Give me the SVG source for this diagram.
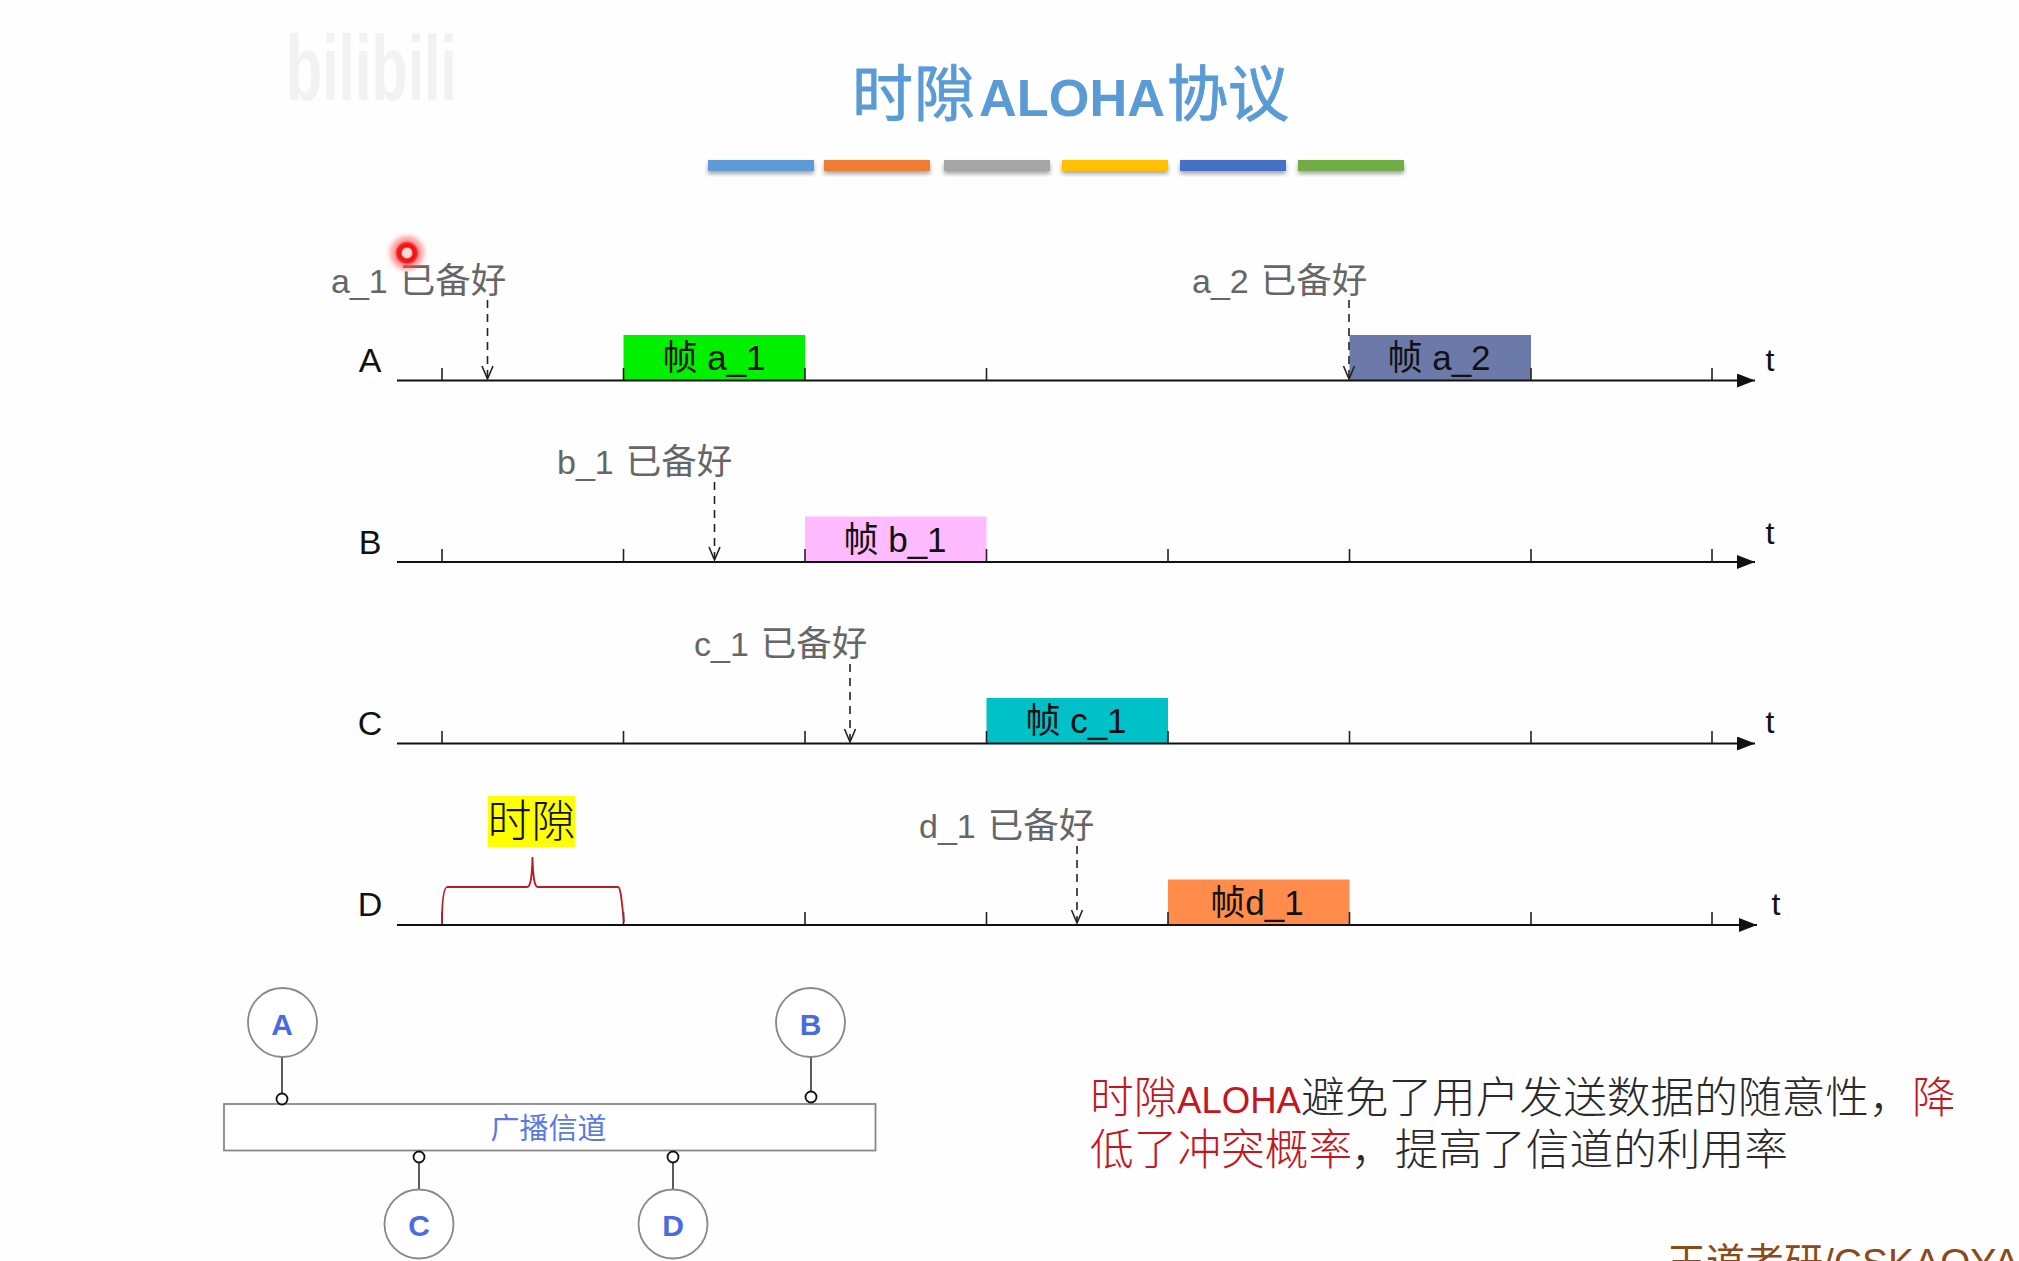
<svg xmlns="http://www.w3.org/2000/svg" width="2019" height="1261" viewBox="0 0 2019 1261">
<style>
text{font-family:"Liberation Sans","Noto Sans CJK SC",sans-serif}
.axis{stroke:#111;stroke-width:2;fill:none}
.tick{stroke:#222;stroke-width:1.6;fill:none}
.ready{stroke:#222;stroke-width:1.6;stroke-dasharray:8 6;fill:none}
.head{stroke:#222;stroke-width:1.6;fill:none}
.lab{font-size:35.500px;fill:#666}
.lat{font-size:34px}
.row{font-size:34px;fill:#111;text-anchor:middle}
.t{font-size:32px;fill:#111;text-anchor:middle}
.fr{font-size:35px;fill:#111;text-anchor:middle}
.bar{filter:url(#sh)}
.st{fill:#fff;stroke:#888;stroke-width:1.8}
.stl{font-size:30px;font-weight:bold;fill:#4a6ae0;text-anchor:middle}
.lk{stroke:#333;stroke-width:1.6}
.pt{fill:#fff;stroke:#111;stroke-width:1.8}
.body{font-size:43.700px;font-weight:300}
.red{fill:#c4161c}
.blk{fill:#2a2a2a}
</style>
<defs>
<marker id="arr" markerUnits="userSpaceOnUse" markerWidth="20" markerHeight="14" refX="18" refY="7" orient="auto"><path d="M0 0L18 7L0 14Z" fill="#111"/></marker>
<filter id="sh" x="-5%" y="-30%" width="110%" height="180%"><feDropShadow dx="0" dy="3" stdDeviation="2.2" flood-color="#000" flood-opacity=".35"/></filter>
<filter id="bl" x="-50%" y="-50%" width="200%" height="200%"><feGaussianBlur stdDeviation="2.500"/></filter>
<radialGradient id="dot"><stop offset="0" stop-color="#ffd0d0"/><stop offset=".3" stop-color="#ffc0c0"/><stop offset=".5" stop-color="#f01010"/><stop offset=".75" stop-color="#f02020"/><stop offset="1" stop-color="#ff6060" stop-opacity="0"/></radialGradient>
</defs>
<rect width="2019" height="1261" fill="#fefefe"/>

<g id="watermark"><text x="286" y="100" font-size="92" font-weight="bold" fill="#f2f2f2" textLength="171" lengthAdjust="spacingAndGlyphs">bilibili</text></g>

<g id="title" font-size="61" fill="#5b9bd5">
<g stroke="#5b9bd5" stroke-width=".9"><text x="852" y="116">时</text><text x="914" y="116">隙</text></g>
<text x="979" y="116" font-weight="bold" font-size="52" textLength="186" lengthAdjust="spacingAndGlyphs">ALOHA</text>
<g stroke="#5b9bd5" stroke-width=".9"><text x="1167" y="116">协议</text></g>
</g>
<g id="title-bars">
<rect class="bar" x="708" y="160" width="106" height="11" fill="#5b9bd5"/>
<rect class="bar" x="824" y="160" width="106" height="11" fill="#ed7d31"/>
<rect class="bar" x="944" y="160" width="106" height="11" fill="#a5a5a5"/>
<rect class="bar" x="1062" y="160" width="106" height="11" fill="#ffc000"/>
<rect class="bar" x="1180" y="160" width="106" height="11" fill="#4472c4"/>
<rect class="bar" x="1298" y="160" width="106" height="11" fill="#70ad47"/>
</g>

<g id="frames">
<g id="frame-a1"><rect x="623.500" y="335" width="181.500" height="45" fill="#00f000"/><text class="fr" x="714" y="370">帧 a_1</text></g>
<g id="frame-a2"><rect x="1349.500" y="335" width="181.500" height="45" fill="#6b7aa8"/><text class="fr" x="1439" y="370">帧 a_2</text></g>
<g id="frame-b1"><rect x="805" y="516.500" width="181.500" height="45" fill="#ffbbff"/><text class="fr" x="895" y="552">帧 b_1</text></g>
<g id="frame-c1"><rect x="986.500" y="698" width="181.500" height="45" fill="#00c0c8"/><text class="fr" x="1076" y="733">帧 c_1</text></g>
<g id="frame-d1"><rect x="1168" y="879.500" width="181.500" height="45" fill="#ff8c4a"/><text class="fr" x="1257" y="915">帧d_1</text></g>
</g>

<g id="connectors">
<g id="axes">
<path class="axis" d="M397 380.500H1755" marker-end="url(#arr)"/>
<path class="axis" d="M397 562H1755" marker-end="url(#arr)"/>
<path class="axis" d="M397 743.500H1755" marker-end="url(#arr)"/>
<path class="axis" d="M397 925H1757" marker-end="url(#arr)"/>
</g>
<g id="ticks">
<path class="tick" d="M442 368V380M623.500 368V380M805 368V380M986.500 368V380M1531 368V380M1712 368V380"/>
<path class="tick" d="M442 549V561M623.500 549V561M805 549V561M986.500 549V561M1168 549V561M1349.500 549V561M1531 549V561M1712 549V561"/>
<path class="tick" d="M442 731V743M623.500 731V743M805 731V743M986.500 731V743M1168 731V743M1349.500 731V743M1531 731V743M1712 731V743"/>
<path class="tick" d="M442 912V924M623.500 912V924M805 912V924M986.500 912V924M1168 912V924M1349.500 912V924M1531 912V924M1712 912V924"/>
</g>
<g id="ready-arrows">
<path class="ready" d="M487.500 300V378"/><path class="head" d="M482 366L487.500 379L493 366"/>
<path class="ready" d="M714.500 482V559"/><path class="head" d="M709 547L714.500 560L720 547"/>
<path class="ready" d="M850 664V741"/><path class="head" d="M844.500 729L850 742L855.500 729"/>
<path class="ready" d="M1077 846V922"/><path class="head" d="M1071.500 910L1077 923L1082.500 910"/>
<path class="ready" d="M1349 300V378"/><path class="head" d="M1343.500 366L1349 379L1354.500 366"/>
</g>
<g id="station-links">
<path class="lk" d="M282 1057V1094M811 1057V1091M419 1162V1189M673 1162V1189"/>
</g>
<path id="brace" d="M442 924C442 905 443 888 447 887H527C531 887 532 875 532.500 857C533 875 534 887 538 887H618C621 887 622 905 624 922" fill="none" stroke="#b81d24" stroke-width="1.800"/>
</g>

<g id="ready-labels">
<text class="lab" x="331" y="293"><tspan class="lat">a_1</tspan><tspan dx="12">已备好</tspan></text>
<text class="lab" x="1192" y="293"><tspan class="lat">a_2</tspan><tspan dx="12">已备好</tspan></text>
<text class="lab" x="557" y="474"><tspan class="lat">b_1</tspan><tspan dx="12">已备好</tspan></text>
<text class="lab" x="694" y="656"><tspan class="lat">c_1</tspan><tspan dx="12">已备好</tspan></text>
<text class="lab" x="919" y="838"><tspan class="lat">d_1</tspan><tspan dx="12">已备好</tspan></text>
</g>
<g id="row-labels">
<text class="row" x="370" y="372">A</text><text class="row" x="370" y="554">B</text><text class="row" x="370" y="735">C</text><text class="row" x="370" y="916">D</text>
<text class="t" x="1770" y="371">t</text><text class="t" x="1770" y="544">t</text><text class="t" x="1770" y="733">t</text><text class="t" x="1776" y="915">t</text>
</g>

<g id="slot-label"><rect x="488" y="796" width="87" height="51" fill="#ffff00"/><text x="531.500" y="837" font-size="44" font-weight="300" fill="#111" text-anchor="middle">时隙</text></g>

<g id="pointer"><circle cx="407" cy="253" r="17" fill="#ff5050" opacity=".55" filter="url(#bl)"/><circle cx="407" cy="253" r="13" fill="url(#dot)"/><circle cx="407" cy="253" r="5" fill="#ffd8d8"/></g>

<g id="channel"><rect x="224" y="1104" width="651.500" height="46.500" fill="#fff" stroke="#888" stroke-width="1.800"/><text x="548.500" y="1139" font-size="29" fill="#5a7adf" text-anchor="middle">广播信道</text></g>
<g id="station-a"><circle class="st" cx="282.500" cy="1022.500" r="34.500"/><text class="stl" x="282" y="1035">A</text><circle class="pt" cx="282" cy="1099" r="5.500"/></g>
<g id="station-b"><circle class="st" cx="810.500" cy="1022.500" r="34.500"/><text class="stl" x="810.500" y="1035">B</text><circle class="pt" cx="811" cy="1097" r="5.500"/></g>
<g id="station-c"><circle class="st" cx="419" cy="1224" r="34.500"/><text class="stl" x="419" y="1236">C</text><circle class="pt" cx="419" cy="1157" r="5.500"/></g>
<g id="station-d"><circle class="st" cx="673" cy="1224" r="34.500"/><text class="stl" x="673" y="1236">D</text><circle class="pt" cx="673" cy="1157" r="5.500"/></g>

<g id="note" class="body">
<text class="red" x="1090" y="1113">时隙</text>
<text class="red" x="1177" y="1113" font-size="37" textLength="124" lengthAdjust="spacingAndGlyphs">ALOHA</text>
<text class="blk" x="1301" y="1113">避免了用户发送数据的随意性，</text>
<text class="red" x="1912" y="1113">降</text>
<text class="red" x="1090" y="1165">低了冲突概率</text>
<text class="blk" x="1351" y="1165">，提高了信道的利用率</text>
</g>
<g id="credit"><text x="1667" y="1276" font-size="39" fill="#8a4a1a">王道考研/CSKAOYAN</text></g>
</svg>
